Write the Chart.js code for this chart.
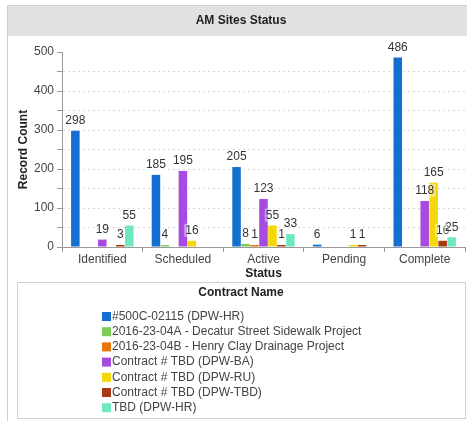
<!DOCTYPE html>
<html>
<head>
<meta charset="utf-8">
<script src="https://cdn.jsdelivr.net/npm/chart.js@4"></script>
<style>
  html, body { margin: 0; padding: 0; background: #fff; }
  #c { display: block; }
</style>
</head>
<body>
<canvas id="c" width="467" height="421"></canvas>
<script>
const categories = ['Identified', 'Scheduled', 'Active', 'Pending', 'Complete'];
const seriesNames = [
  '#500C-02115 (DPW-HR)',
  '2016-23-04A - Decatur Street Sidewalk Project',
  '2016-23-04B - Henry Clay Drainage Project',
  'Contract # TBD (DPW-BA)',
  'Contract # TBD (DPW-RU)',
  'Contract # TBD (DPW-TBD)',
  'TBD (DPW-HR)'
];
const hr500C   = [298, 185, 205, 6, 486];
const decatur  = [null, 4, 8, null, null];
const henryClay= [null, null, 1, null, null];
const tbdBA    = [19, 195, 123, null, 118];
const tbdRU    = [null, 16, 55, 1, 165];
const tbdTBD   = [3, null, 1, 1, 16];
const tbdHR    = [55, null, 33, null, 25];
const seriesValues = [hr500C, decatur, henryClay, tbdBA, tbdRU, tbdTBD, tbdHR];
const seriesColors = ['#1470d0', '#7dcd55', '#e8740a', '#a64ae0', '#f5d80a', '#a83a12', '#6ee8c0'];
const yTickValues = [0, 100, 200, 300, 400, 500];

const FONT = '"Liberation Sans", Arial, sans-serif';

const framePlugin = {
  id: 'frame',
  beforeDraw(chart) {
    const ctx = chart.ctx;
    ctx.save();
    ctx.fillStyle = '#ffffff';
    ctx.fillRect(0, 0, chart.width, chart.height);
    ctx.fillStyle = '#e1e1e1';
    ctx.fillRect(7, 5, chart.width - 7, 31);
    ctx.strokeStyle = '#cfcfcf';
    ctx.lineWidth = 1;
    ctx.beginPath();
    ctx.moveTo(chart.width, 5.5);
    ctx.lineTo(7.5, 5.5);
    ctx.lineTo(7.5, chart.height);
    ctx.stroke();
    ctx.fillStyle = '#222';
    ctx.font = 'bold 12px ' + FONT;
    ctx.textAlign = 'center';
    ctx.textBaseline = 'middle';
    ctx.fillText('AM Sites Status', 241, 21);
    ctx.restore();
  },
  afterDatasetsDraw(chart) {
    const ctx = chart.ctx;
    ctx.save();
    ctx.font = '12px ' + FONT;
    ctx.textAlign = 'center';
    ctx.textBaseline = 'bottom';
    chart.data.datasets.forEach((ds, i) => {
      const meta = chart.getDatasetMeta(i);
      meta.data.forEach((el, j) => {
        const v = ds.data[j];
        if (v === null || v === undefined) return;
        const txt = String(v);
        const w = ctx.measureText(txt).width;
        const y = el.y - 4;
        ctx.fillStyle = 'rgba(255,255,255,0.45)';
        ctx.fillRect(el.x - w / 2 - 1, y - 13, w + 2, 13);
        ctx.fillStyle = '#333';
        ctx.fillText(txt, el.x, y);
      });
    });
    ctx.restore();
  },
  afterDraw(chart) {
    const ctx = chart.ctx;
    ctx.save();
    ctx.strokeStyle = '#cfcfcf';
    ctx.lineWidth = 1;
    ctx.strokeRect(17.5, 282.5, 448, 136);
    ctx.fillStyle = '#222';
    ctx.font = 'bold 12px ' + FONT;
    ctx.textAlign = 'center';
    ctx.textBaseline = 'middle';
    ctx.fillText('Contract Name', 241, 293);
    ctx.font = '12px ' + FONT;
    ctx.textAlign = 'left';
    chart.data.datasets.forEach((ds, i) => {
      const y = 316 + i * 15.2;
      ctx.fillStyle = ds.backgroundColor;
      ctx.fillRect(102, y - 4, 9, 9);
      ctx.fillStyle = '#444';
      ctx.fillText(ds.label, 112, y + 0.5);
    });
    ctx.restore();
  }
};

new Chart(document.getElementById('c'), {
  type: 'bar',
  data: {
    labels: categories,
    datasets: seriesNames.map((name, i) => ({
      label: name,
      data: seriesValues[i],
      backgroundColor: seriesColors[i],
      borderWidth: 0,
      categoryPercentage: 0.78,
      barPercentage: 0.95,
      minBarLength: 2
    }))
  },
  options: {
    responsive: false,
    animation: false,
    devicePixelRatio: 1,
    layout: { padding: { left: 8, top: 52, right: 2, bottom: 139 } },
    plugins: {
      legend: { display: false },
      title: { display: false },
      tooltip: { enabled: false }
    },
    scales: {
      x: {
        offset: true,
        afterFit(scale) { scale.height = 35; },
        grid: { display: true, drawOnChartArea: false, drawTicks: true, tickLength: 5, tickColor: '#999' },
        border: { display: true, color: '#999' },
        ticks: { color: '#444', font: { family: FONT, size: 12 }, padding: 0, maxRotation: 0, autoSkip: false },
        title: { display: true, text: 'Status', color: '#222', font: { family: FONT, size: 12, weight: 'bold' }, padding: { top: 0, bottom: 1 } }
      },
      y: {
        min: 0,
        max: 500,
        afterFit(scale) { scale.width = 54; },
        ticks: {
          stepSize: 50,
          color: '#444',
          font: { family: FONT, size: 12 },
          padding: 3,
          callback: (v) => yTickValues.includes(v) ? String(v) : ''
        },
        grid: {
          drawTicks: true,
          tickLength: 5,
          tickColor: '#999',
          color: (c) => (c.tick && (c.tick.value === 500 || c.tick.value === 0)) ? 'rgba(0,0,0,0)' : '#d9d9d9'
        },
        border: { display: true, color: '#999', dash: [2, 3] },
        title: { display: true, text: 'Record Count', color: '#222', font: { family: FONT, size: 12, weight: 'bold' }, padding: { top: 8, bottom: 0 } }
      }
    }
  },
  plugins: [framePlugin]
});
</script>
</body>
</html>
